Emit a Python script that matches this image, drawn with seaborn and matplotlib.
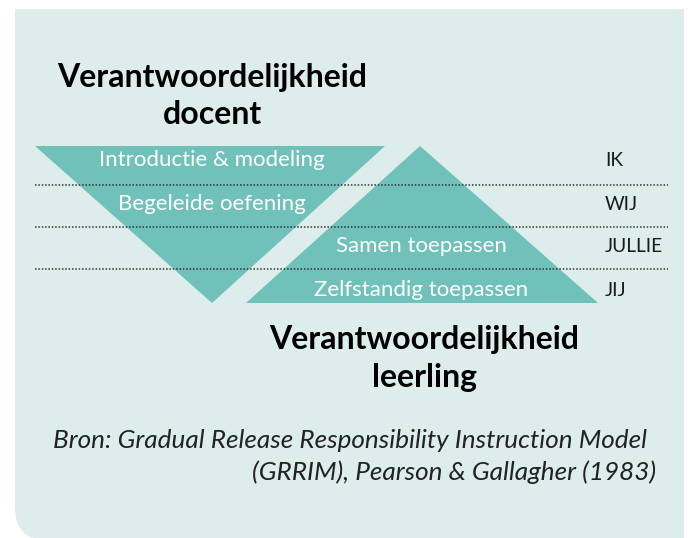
import matplotlib
matplotlib.use('Agg')
import matplotlib.pyplot as plt
import seaborn as sns
import pandas as pd
import numpy as np
from matplotlib.path import Path
from matplotlib.patches import PathPatch

# data
row_labels = ["IK", "WIJ", "JULLIE", "JIJ"]
row_y = [160, 204, 246, 290]
sep_y = [185, 227, 269]
teacher_steps = ["Introductie & modeling", "Begeleide oefening"]
student_steps = ["Samen toepassen", "Zelfstandig toepassen"]
teacher_tri_x = [35, 385, 212]
teacher_tri_y = [146, 146, 303]
student_tri_x = [420, 598, 246]
student_tri_y = [146, 303, 303]

teal = "#6fc1b9"
bg = "#dcedeb"

sns.set_style("white")
plt.rcParams['font.family'] = ['Lato', 'DejaVu Sans']

fig = plt.figure(figsize=(6.88, 5.38), dpi=100)
ax = fig.add_axes([0, 0, 1, 1])

# background panel with rounded bottom-left corner
r = 32
x0, x1, y0, y1 = 15, 684, 9, 540
verts = [(x0, y0), (x1, y0), (x1, y1), (x0 + r, y1), (x0, y1), (x0, y1 - r), (x0, y0)]
codes = [Path.MOVETO, Path.LINETO, Path.LINETO, Path.LINETO, Path.CURVE3, Path.CURVE3, Path.CLOSEPOLY]
ax.add_patch(PathPatch(Path(verts, codes), facecolor=bg, edgecolor='none', zorder=0))

ax.fill(teacher_tri_x, teacher_tri_y, color=teal, lw=0, zorder=1)
ax.fill(student_tri_x, student_tri_y, color=teal, lw=0, zorder=1)

# dotted separators
for y in sep_y:
    df = pd.DataFrame({"x": [35, 668], "y": [y, y]})
    sns.lineplot(data=df, x="x", y="y", ax=ax, color="#333333", lw=1.1,
                 linestyle=(0, (1, 1.2)), zorder=2)
ax.set_xlim(0, 688)
ax.set_ylim(538, 0)
ax.axis('off')

for lab, y in zip(row_labels, row_y):
    ax.text(605, y, lab, fontsize=13.7, color="#1a1a1a", ha='left', va='center', zorder=3)

for lab, y in zip(teacher_steps, row_y[:2]):
    ax.text(212, y, lab, fontsize=16, color="white", ha='center', va='center', zorder=3)
for lab, y in zip(student_steps, row_y[2:]):
    ax.text(421, y, lab, fontsize=16, color="white", ha='center', va='center', zorder=3)

title_kw = dict(fontsize=23, fontweight='bold', color="black", ha='center', va='center')
ax.text(212, 78, "Verantwoordelijkheid", **title_kw)
ax.text(212, 115, "docent", **title_kw)
ax.text(424, 340, "Verantwoordelijkheid", **title_kw)
ax.text(424, 378, "leerling", **title_kw)

ax.text(53, 440, "Bron: Gradual Release Responsibility Instruction Model", fontsize=18.8,
        style='italic', color="#222222", ha='left', va='center')
ax.text(656, 472, "(GRRIM), Pearson & Gallagher (1983)", fontsize=18.8,
        style='italic', color="#222222", ha='right', va='center')

fig.savefig("out.png", dpi=100)
